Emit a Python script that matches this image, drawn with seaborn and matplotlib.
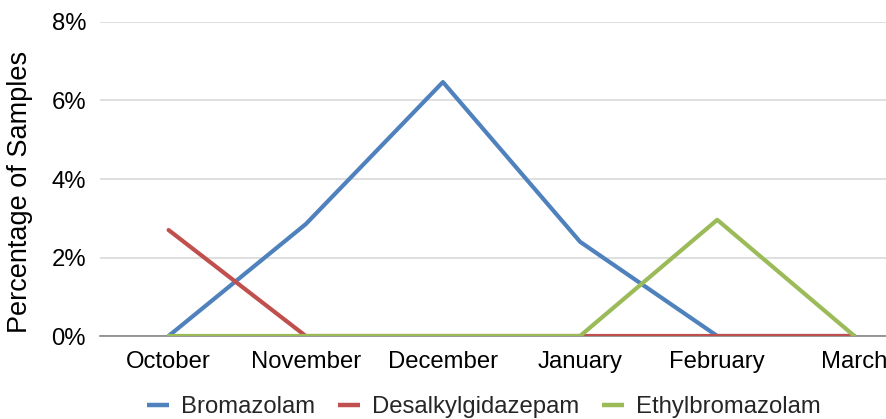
import matplotlib
matplotlib.use("Agg")
import matplotlib.pyplot as plt
import seaborn as sns
import pandas as pd
from matplotlib.ticker import FuncFormatter
from matplotlib.lines import Line2D

months = ["October", "November", "December", "January", "February", "March"]
bromazolam = [0.0, 2.85, 6.47, 2.40, 0.0, 0.0]
desalkylgidazepam = [2.70, 0.0, 0.0, 0.0, 0.0, 0.0]
ethylbromazolam = [0.0, 0.0, 0.0, 0.0, 2.96, 0.0]
series_names = ["Bromazolam", "Desalkylgidazepam", "Ethylbromazolam"]
colors = ["#4F81BD", "#C0504D", "#9BBB59"]

rows = []
for name, vals in zip(series_names, [bromazolam, desalkylgidazepam, ethylbromazolam]):
    for i, (m, v) in enumerate(zip(months, vals)):
        rows.append({"idx": i, "Month": m, "Value": v, "Series": name})
df = pd.DataFrame(rows)

sns.set_theme(style="white")
plt.rcParams["font.family"] = ["Liberation Sans", "DejaVu Sans"]

fig = plt.figure(figsize=(8.87, 4.19), dpi=100)
ax = fig.add_axes([100/887, 83/419, 823/887, 314/419])

sns.lineplot(data=df, x="idx", y="Value", hue="Series", hue_order=series_names,
             palette=colors, linewidth=3.0, ax=ax, legend=False, zorder=3)

ax.set_xlim(-0.5, 5.5)
ax.set_ylim(0, 8)
ax.set_xticks(range(len(months)))
ax.set_xticklabels(months)
ax.set_yticks([0, 2, 4, 6, 8])
ax.yaxis.set_major_formatter(FuncFormatter(lambda v, p: f"{int(v)}%"))
ax.tick_params(axis="both", length=0, labelsize=17.2, colors="black")
ax.tick_params(axis="x", pad=11)
ax.tick_params(axis="y", pad=10)
ax.grid(axis="y", color="#D9D9D9", linewidth=1.2, zorder=0)
ax.grid(axis="x", visible=False)
for s in ["top", "right", "left"]:
    ax.spines[s].set_visible(False)
ax.spines["bottom"].set_color("#868686")
ax.spines["bottom"].set_linewidth(1.2)
ax.spines["bottom"].set_zorder(2)
ax.set_xlabel("")
ax.set_ylabel("Percentage of Samples", fontsize=19.5, color="black")
ax.yaxis.set_label_coords(-0.081, 0.46)

handles = [Line2D([0], [0], color=c, linewidth=3.2, solid_capstyle="butt") for c in colors]
fig.legend(handles, series_names, loc="center", bbox_to_anchor=(484/887, 1 - 407/419),
           ncol=3, frameon=False, fontsize=17.2, handlelength=0.92, handletextpad=0.5,
           columnspacing=0.96, borderpad=0.0, borderaxespad=0.0)

fig.savefig("out.png", dpi=100)
